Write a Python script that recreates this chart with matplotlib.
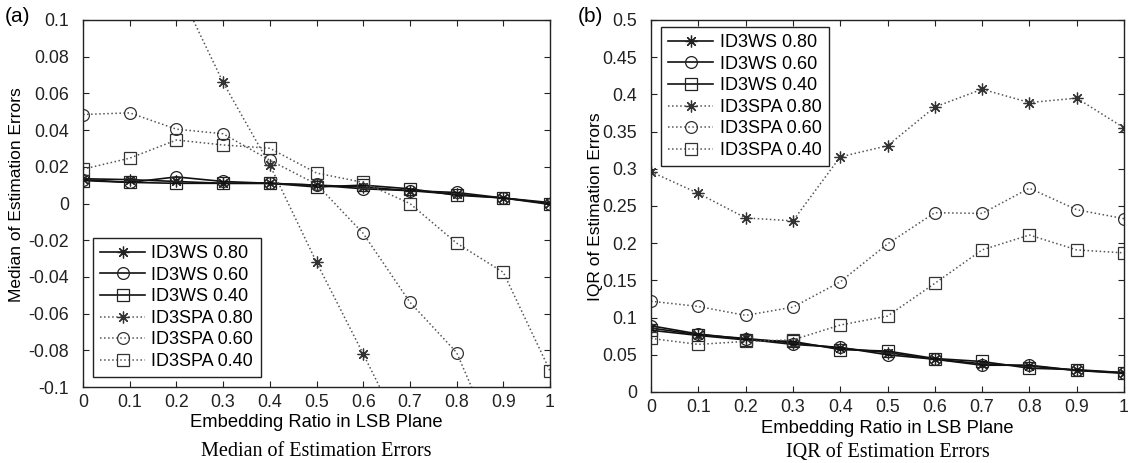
import matplotlib
matplotlib.use("Agg")
import matplotlib.pyplot as plt

# ---------------- data ----------------
ratio = [0.0, 0.1, 0.2, 0.3, 0.4, 0.5, 0.6, 0.7, 0.8, 0.9, 1.0]
x_tick_labels = ['0', '0.1', '0.2', '0.3', '0.4', '0.5', '0.6', '0.7', '0.8', '0.9', '1']

series_names = ['ID3WS 0.80', 'ID3WS 0.60', 'ID3WS 0.40',
                'ID3SPA 0.80', 'ID3SPA 0.60', 'ID3SPA 0.40']

# (a) Median of estimation errors
med_ws80 = [0.0135, 0.0130, 0.0120, 0.0110, 0.0110, 0.0100, 0.0090, 0.0070, 0.0050, 0.0030, 0.0005]
med_ws60 = [0.0130, 0.0115, 0.0145, 0.0120, 0.0110, 0.0100, 0.0080, 0.0070, 0.0060, 0.0030, 0.0000]
med_ws40 = [0.0125, 0.0115, 0.0110, 0.0110, 0.0110, 0.0090, 0.0100, 0.0080, 0.0045, 0.0030, -0.0005]
med_spa80 = [0.220, 0.170, 0.119, 0.066, 0.021, -0.032, -0.082, -0.133, -0.180, -0.230, -0.280]
med_spa60 = [0.0485, 0.0494, 0.0405, 0.0380, 0.0236, 0.0105, -0.0163, -0.0538, -0.0812, -0.1400, -0.1900]
med_spa40 = [0.0187, 0.0247, 0.0346, 0.0319, 0.0301, 0.0166, 0.0115, 0.0000, -0.0216, -0.0375, -0.0912]
med_yticks = [-0.1, -0.08, -0.06, -0.04, -0.02, 0, 0.02, 0.04, 0.06, 0.08, 0.1]
med_ytick_labels = ['-0.1', '-0.08', '-0.06', '-0.04', '-0.02', '0',
                    '0.02', '0.04', '0.06', '0.08', '0.1']

# (b) IQR of estimation errors
iqr_ws80 = [0.086, 0.077, 0.072, 0.066, 0.059, 0.053, 0.044, 0.038, 0.035, 0.029, 0.026]
iqr_ws60 = [0.089, 0.078, 0.071, 0.064, 0.060, 0.050, 0.044, 0.036, 0.036, 0.029, 0.025]
iqr_ws40 = [0.083, 0.076, 0.070, 0.068, 0.057, 0.055, 0.045, 0.041, 0.032, 0.030, 0.026]
iqr_spa80 = [0.296, 0.267, 0.234, 0.230, 0.316, 0.331, 0.383, 0.407, 0.389, 0.395, 0.355]
iqr_spa60 = [0.122, 0.115, 0.103, 0.114, 0.148, 0.199, 0.241, 0.240, 0.274, 0.245, 0.233]
iqr_spa40 = [0.072, 0.064, 0.068, 0.070, 0.090, 0.102, 0.146, 0.191, 0.211, 0.191, 0.187]
iqr_yticks = [0, 0.05, 0.1, 0.15, 0.2, 0.25, 0.3, 0.35, 0.4, 0.45, 0.5]
iqr_ytick_labels = ['0', '0.05', '0.1', '0.15', '0.2', '0.25', '0.3', '0.35', '0.4', '0.45', '0.5']

# ---------------- style ----------------
plt.rcParams['font.family'] = ['Liberation Sans', 'DejaVu Sans']
W, H = 1130, 463
fig = plt.figure(figsize=(W / 100, H / 100), dpi=100)

star = (8, 2, 0)
markers = [star, 'o', 's', star, 'o', 's']
msizes = [8.5, 8.5, 8, 8.5, 8.5, 8]
solid_c = '#111111'
dot_c = '#555555'


def draw(ax, ys, yticks, ylabels, ylim):
    for i, (y, name) in enumerate(zip(ys, series_names)):
        solid = i < 3
        ax.plot(ratio, y, linestyle='-' if solid else ':',
                color=solid_c if solid else dot_c,
                linewidth=1.2 if solid else 1.1,
                marker=markers[i], markersize=msizes[i],
                markerfacecolor='none',
                markeredgecolor='#222222' if solid else '#333333',
                markeredgewidth=0.9, label=name, clip_on=True)
    ax.set_xlim(0, 1)
    ax.set_ylim(*ylim)
    ax.set_xticks(ratio)
    ax.set_xticklabels(x_tick_labels)
    ax.set_yticks(yticks)
    ax.set_yticklabels(ylabels)
    ax.tick_params(direction='in', top=True, right=True, length=4,
                   width=0.8, labelsize=12.8, colors='#222222')
    ax.tick_params(axis='x', pad=5)
    ax.tick_params(axis='y', pad=10)
    for s in ax.spines.values():
        s.set_linewidth(1.0)
        s.set_color('#222222')


# (a)
ax1 = fig.add_axes([83 / W, 1 - 387 / H, 467 / W, 367 / H])
draw(ax1, [med_ws80, med_ws60, med_ws40, med_spa80, med_spa60, med_spa40],
     med_yticks, med_ytick_labels, (-0.1, 0.1))
ax1.set_ylabel('Median of Estimation Errors', fontsize=12.5, va='center')
ax1.yaxis.set_label_coords(-0.143, 0.523)
ax1.set_xlabel('Embedding Ratio in LSB Plane', fontsize=13.2, va='center')
ax1.xaxis.set_label_coords(0.5, -0.098)
leg1 = ax1.legend(loc='lower left', bbox_to_anchor=(0.021, 0.027), borderaxespad=0,
                  fontsize=13, handlelength=2.5, handletextpad=0.35,
                  labelspacing=0.25, borderpad=0.4, numpoints=1, fancybox=False,
                  framealpha=1, edgecolor='#222222')
leg1.get_frame().set_linewidth(1.0)

# (b)
ax2 = fig.add_axes([651 / W, 1 - 392 / H, 473 / W, 372 / H])
draw(ax2, [iqr_ws80, iqr_ws60, iqr_ws40, iqr_spa80, iqr_spa60, iqr_spa40],
     iqr_yticks, iqr_ytick_labels, (0, 0.5))
ax2.set_ylabel('IQR of Estimation Errors', fontsize=12.5, va='center')
ax2.yaxis.set_label_coords(-0.118, 0.497)
ax2.set_xlabel('Embedding Ratio in LSB Plane', fontsize=13.2, va='center')
ax2.xaxis.set_label_coords(0.5, -0.097)
leg2 = ax2.legend(loc='upper left', bbox_to_anchor=(0.021, 0.981), borderaxespad=0,
                  fontsize=13, handlelength=2.5, handletextpad=0.35,
                  labelspacing=0.25, borderpad=0.4, numpoints=1, fancybox=False,
                  framealpha=1, edgecolor='#222222')
leg2.get_frame().set_linewidth(1.0)

# panel letters and captions
fig.text(18 / W, 1 - 16 / H, '(a)', fontsize=15, ha='center', va='center')
fig.text(590 / W, 1 - 16 / H, '(b)', fontsize=15, ha='center', va='center')
fig.text(316 / W, 1 - 452 / H, 'Median of Estimation Errors', fontsize=14.5,
         family=['Liberation Serif', 'DejaVu Serif'], ha='center', va='center')
fig.text(888 / W, 1 - 453 / H, 'IQR of Estimation Errors', fontsize=14.5,
         family=['Liberation Serif', 'DejaVu Serif'], ha='center', va='center')

fig.savefig('out.png', dpi=100)
